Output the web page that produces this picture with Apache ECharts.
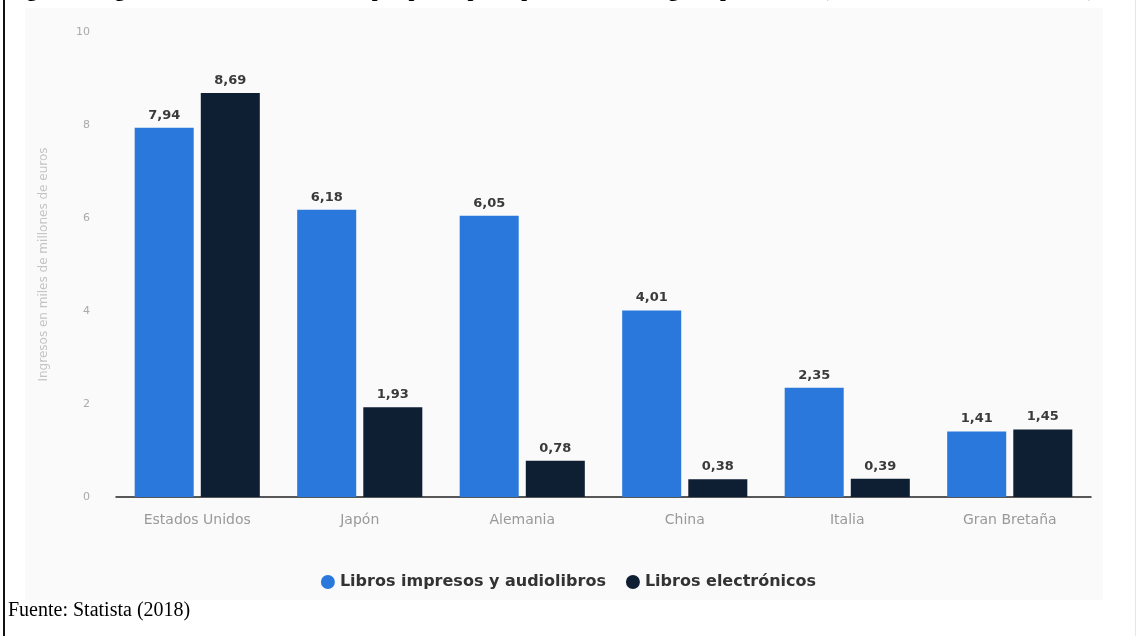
<!DOCTYPE html>
<html>
<head>
<meta charset="utf-8">
<script src="https://cdn.jsdelivr.net/npm/echarts@6/dist/echarts.min.js"></script>
<style>
html,body{margin:0;padding:0;background:#fff;}
#c{width:1137px;height:636px;}
</style>
</head>
<body>
<div id="c"></div>
<script>
var categories = ['Estados Unidos', 'Japón', 'Alemania', 'China', 'Italia', 'Gran Bretaña'];
var printed = [7.94, 6.18, 6.05, 4.01, 2.35, 1.41];
var ebooks = [8.69, 1.93, 0.78, 0.38, 0.39, 1.45];
var seriesNames = ['Libros impresos y audiolibros', 'Libros electrónicos'];
var yTicks = [0, 2, 4, 6, 8, 10];

var chart = echarts.init(document.getElementById('c'), null, {renderer: 'canvas'});
function fmt(p){ return String(p.value.toFixed(2)).replace('.', ','); }
var labelStyle = {show: true, position: 'top', distance: 6, formatter: fmt,
  color: '#3a3a3a', fontWeight: 'bold', fontSize: 13, fontFamily: 'DejaVu Sans'};
chart.setOption({
  backgroundColor: '#ffffff',
  animation: false,
  graphic: [
    {type: 'rect', shape: {x: 25, y: 8, width: 1078, height: 592}, style: {fill: '#fafafa'}, z: -10},
    {type: 'rect', shape: {x: 3, y: 0, width: 2, height: 636}, style: {fill: '#111'}},
    {type: 'rect', shape: {x: 1135, y: 0, width: 1, height: 636}, style: {fill: '#e6e6e6'}},
    {type: 'text', left: 8, top: -20, z: 100, style: {text: 'Figura 7. Ingresos del mercado editorial por países principales en 2018, según tipo de libro (en miles de millones de euros)', font: 'bold 21px "Liberation Serif"', fill: '#000'}},
    {type: 'text', left: 8, top: 601, style: {text: 'Fuente: Statista (2018)', font: '20px "Liberation Serif"', fill: '#000'}}
  ],
  legend: {
    data: seriesNames,
    top: 569,
    left: 'center',
    icon: 'circle',
    itemWidth: 14, itemHeight: 14, itemGap: 20,
    textStyle: {color: '#333', fontWeight: 'bold', fontSize: 16, fontFamily: 'DejaVu Sans'}
  },
  grid: {left: 116, right: 46, top: 32, bottom: 139},
  xAxis: {
    type: 'category',
    data: categories,
    axisLine: {lineStyle: {color: '#222', width: 1.5}},
    axisTick: {show: false},
    axisLabel: {color: '#999', fontSize: 14, margin: 16, fontFamily: 'DejaVu Sans'}
  },
  yAxis: {
    type: 'value',
    min: 0, max: 10, interval: 2,
    name: 'Ingresos en miles de millones de euros',
    nameLocation: 'middle', nameGap: 66,
    nameTextStyle: {color: '#c4c4c4', fontSize: 12, fontFamily: 'DejaVu Sans'},
    axisLine: {show: false}, axisTick: {show: false},
    splitLine: {show: false},
    axisLabel: {color: '#aaa', fontSize: 11, margin: 26, fontFamily: 'DejaVu Sans',
      formatter: function(v){ return yTicks.indexOf(v) >= 0 ? String(v) : ''; }}
  },
  series: [
    {name: seriesNames[0], type: 'bar', data: printed, barGap: '12%', barCategoryGap: '23%',
      itemStyle: {color: '#2a78dc'}, label: labelStyle},
    {name: seriesNames[1], type: 'bar', data: ebooks,
      itemStyle: {color: '#0f1f33'}, label: labelStyle}
  ]
});
</script>
</body>
</html>
